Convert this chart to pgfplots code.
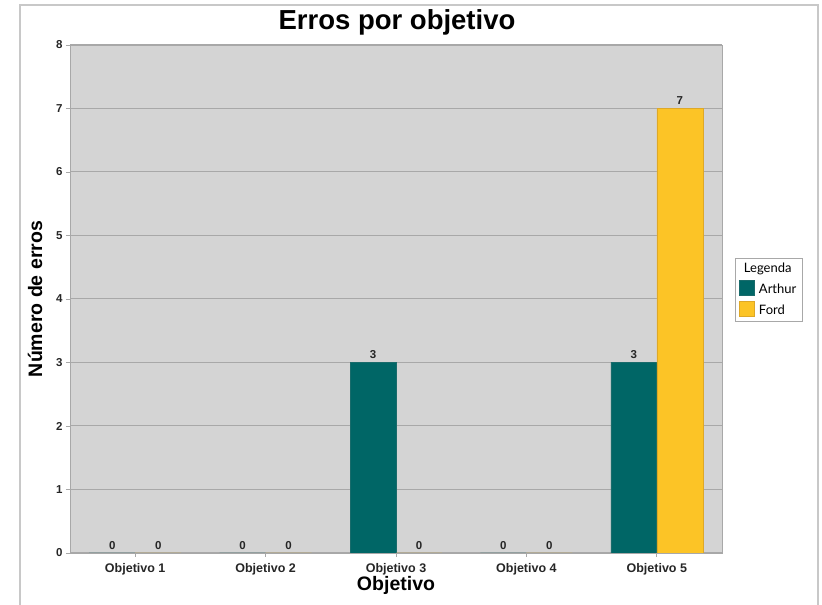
\documentclass[border=0pt]{standalone}
\usepackage{pgfplots}
\pgfplotsset{compat=1.18}
\usepackage{fontspec}
\setmainfont{Liberation Sans}
\newfontfamily\legfont{Lato}
\definecolor{arthur}{RGB}{0,102,102}
\definecolor{ford}{RGB}{252,196,38}
\definecolor{fordedge}{RGB}{222,168,40}
\definecolor{plotbg}{RGB}{212,212,212}
\definecolor{gridc}{RGB}{168,168,168}
\definecolor{framec}{RGB}{200,200,200}
\begin{document}
\begin{tikzpicture}[x=1pt,y=1pt]
\path[use as bounding box] (0,0) rectangle (822,605);
\draw[framec,line width=1.5pt] (20,0) -- (20,600) -- (818,600) -- (818,0);
\begin{axis}[
  at={(70pt,52pt)}, anchor=south west,
  scale only axis, width=652pt, height=508pt,
  ybar=0pt, bar width=46pt,
  xmin=-0.5, xmax=4.5, ymin=0, ymax=8,
  xtick={0,1,2,3,4},
  xticklabels={Objetivo 1,Objetivo 2,Objetivo 3,Objetivo 4,Objetivo 5},
  ytick={0,1,2,3,4,5,6,7,8},
  tick align=outside, major tick length=4pt,
  xtick pos=bottom, ytick pos=left,
  tick style={gridc, line width=0.8pt},
  axis line style={gridc, line width=0.8pt},
  axis background/.style={fill=plotbg},
  ymajorgrids, grid style={gridc, line width=1pt},
  ticklabel style={font=\fontsize{11.5}{13}\selectfont\bfseries, text=black!85},
  xticklabel style={font=\fontsize{12.5}{14}\selectfont\bfseries, yshift=-3pt},
  /pgf/number format/assume math mode=true,
  title={\fontsize{27.5}{30}\selectfont\bfseries Erros por objetivo},
  title style={at={(axis description cs:0.5015,1.033)}, anchor=center},
  xlabel={\fontsize{19.5}{22}\selectfont\bfseries Objetivo},
  xlabel style={at={(axis description cs:0.5,-0.063)}, anchor=center},
  ylabel={\fontsize{19.5}{22}\selectfont\bfseries Número de erros},
  ylabel style={at={(axis description cs:-0.0537,0.5)}, anchor=center},
  nodes near coords,
  every node near coord/.append style={font=\fontsize{11.5}{13}\selectfont\bfseries, text=black!85},
  legend style={at={(axis description cs:1.0199,0.5807)}, anchor=north west, draw=gridc, line width=0.8pt,
    font=\legfont\fontsize{13}{15}\selectfont, inner xsep=4pt, inner ysep=3pt, row sep=4pt, cells={anchor=west}},
  legend cell align=left,
  area legend,
  legend image code/.code={\draw[#1] (-2pt,-6pt) rectangle (13pt,9pt);},
]
\addlegendimage{empty legend}
\addlegendentry{\hspace{-13pt}Legenda}
\addplot[fill=arthur, draw=arthur!80!gray, line width=0.6pt] coordinates {(0,0) (1,0) (2,3) (3,0) (4,3)};
\addlegendentry{\hspace{2pt}Arthur}
\addplot[fill=ford, draw=fordedge, line width=0.6pt] coordinates {(0,0) (1,0) (2,0) (3,0) (4,7)};
\addlegendentry{\hspace{2pt}Ford}
\end{axis}
\end{tikzpicture}
\end{document}
